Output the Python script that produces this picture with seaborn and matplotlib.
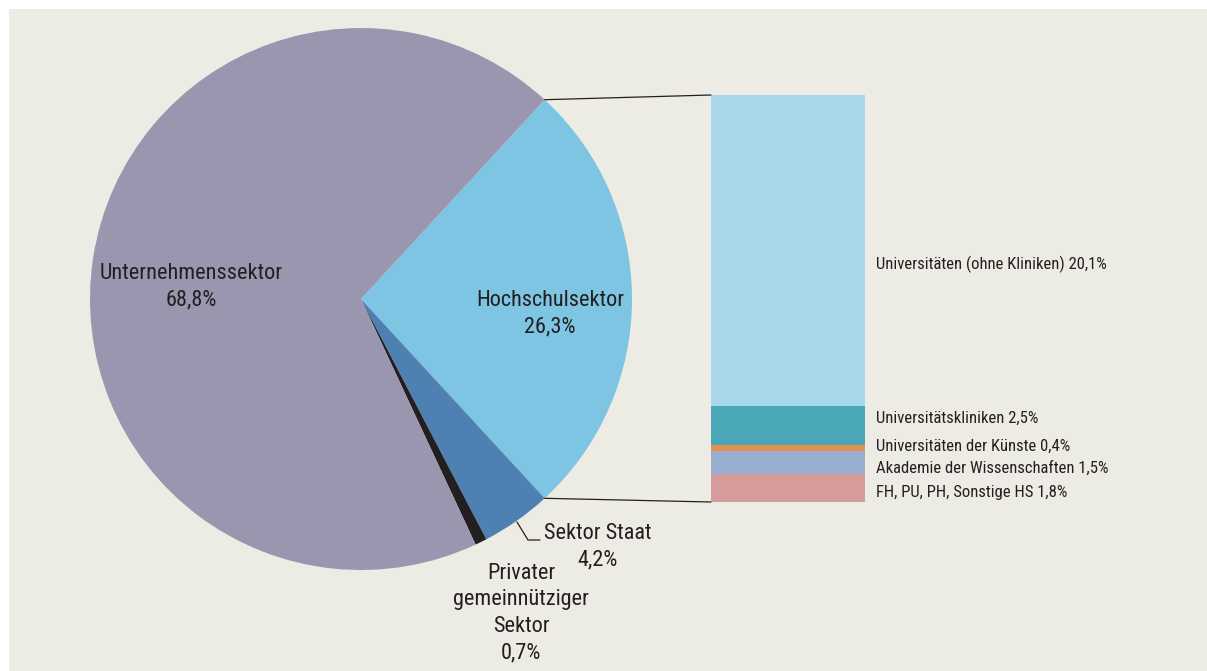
import matplotlib
matplotlib.use("Agg")
import matplotlib.pyplot as plt
from matplotlib import font_manager
from matplotlib.patches import Rectangle, ConnectionPatch
import seaborn as sns
import numpy as np

# ---------------- data ----------------
pie_labels = ["Hochschulsektor", "Sektor Staat", "Privater gemeinnütziger Sektor", "Unternehmenssektor"]
pie_values = [26.3, 4.2, 0.7, 68.8]
pie_colors = ["#7EC4E3", "#4E80B1", "#231F20", "#9A96AF"]

bar_labels = ["FH, PU, PH, Sonstige HS", "Akademie der Wissenschaften", "Universitäten der Künste",
              "Universitätskliniken", "Universitäten (ohne Kliniken)"]
bar_values = [1.8, 1.5, 0.4, 2.5, 20.1]
bar_colors = ["#D69C9C", "#98AFD2", "#E4914F", "#4AA7B7", "#A9D7EC"]

def fmt(v):
    return f"{v:.1f}".replace(".", ",") + "%"

# ---------------- style ----------------
sns.set_theme(style="white")
names = {f.name for f in font_manager.fontManager.ttflist}
stretch = "normal"
if "Roboto Condensed" in names:
    fam = ["Roboto Condensed", "DejaVu Sans"]
elif "Liberation Sans Narrow" in names:
    fam = ["Liberation Sans Narrow", "DejaVu Sans"]
else:
    fam = ["DejaVu Sans"]
    stretch = "condensed"
plt.rcParams["font.family"] = fam
plt.rcParams["font.stretch"] = stretch
TXT = "#231F20"
BG = "#ECEBE4"

W, H = 1207, 671
fig = plt.figure(figsize=(W / 100, H / 100), dpi=100, facecolor="white")
ax = fig.add_axes([0, 0, 1, 1])
ax.set_facecolor("none")

# background panel
ax.add_patch(Rectangle((9, 0), W - 9, H - 9, facecolor=BG, edgecolor="none", zorder=0))

cx, cy, R = 361, 372, 271
start = pie_values[0] * 3.6 / 2
wedges, _ = ax.pie(pie_values, colors=pie_colors, startangle=start, counterclock=False,
                   center=(cx, cy), radius=R, wedgeprops=dict(linewidth=0))
for w in wedges:
    w.set_zorder(2)
ax.set_xlim(0, W)
ax.set_ylim(0, H)
ax.set_aspect("equal")
ax.axis("off")

# pie labels
fs = 16
ls = 1.35
ax.text(191, 384, f"Unternehmenssektor\n{fmt(pie_values[3])}", ha="center", va="center",
        fontsize=fs, color=TXT, linespacing=ls, zorder=5)
ax.text(550, 357, f"Hochschulsektor\n{fmt(pie_values[0])}", ha="center", va="center",
        fontsize=fs, color=TXT, linespacing=ls, zorder=5)
ax.text(598, 124, f"Sektor Staat\n{fmt(pie_values[1])}", ha="center", va="center",
        fontsize=fs, color=TXT, linespacing=ls, zorder=5)
ax.text(521, 58, f"Privater\ngemeinnütziger\nSektor\n{fmt(pie_values[2])}", ha="center", va="center",
        fontsize=fs, color=TXT, linespacing=ls, zorder=5)
ax.plot([517, 528, 540], [H - 522, H - 540, H - 540], color=TXT, lw=0.9, zorder=5)

# bar of pie
bx0, bx1, by_top, by_bot = 711, 865, 95, 502
bax = fig.add_axes([bx0 / W, (H - by_bot) / H, (bx1 - bx0) / W, (by_bot - by_top) / H])
bax.set_facecolor("none")
bottom = 0
for v, c in zip(bar_values, bar_colors):
    bax.bar(0, v, width=1, bottom=bottom, color=c, linewidth=0)
    bottom += v
bax.set_xlim(-0.5, 0.5)
bax.set_ylim(0, sum(bar_values))
bax.axis("off")

label_y = [178, 203, 225, 253, 407]
for lab, v, ly in zip(bar_labels, bar_values, label_y):
    ax.text(876, ly, f"{lab} {fmt(v)}", ha="left", va="center", fontsize=12, color=TXT, zorder=5)

# connecting lines
th = np.deg2rad(start)
p_top = (cx + R * np.cos(th), cy + R * np.sin(th))
p_bot = (cx + R * np.cos(-th), cy + R * np.sin(-th))
for p, yb in [(p_top, sum(bar_values)), (p_bot, 0)]:
    con = ConnectionPatch(xyA=p, coordsA=ax.transData, xyB=(-0.5, yb), coordsB=bax.transData,
                          color=TXT, lw=0.9, zorder=1)
    fig.add_artist(con)

fig.savefig("out.png", dpi=100, facecolor="white")
